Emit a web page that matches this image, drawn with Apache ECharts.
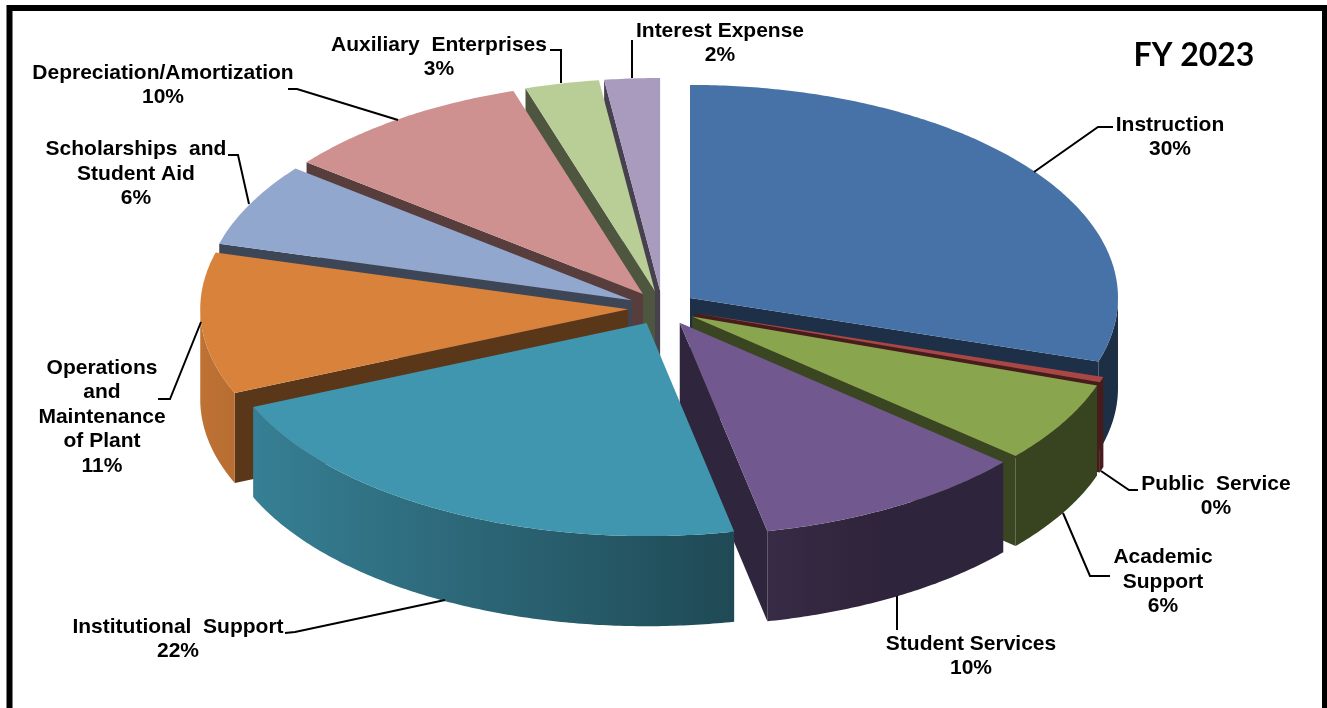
<!DOCTYPE html>
<html><head><meta charset="utf-8">
<style>html,body{margin:0;padding:0;background:#fff;overflow:hidden}#c{width:1327px;height:708px}</style>
<script src="https://cdn.jsdelivr.net/npm/echarts@6/dist/echarts.min.js"></script>
</head><body><div id="c"></div>
<script>
const categories = ['Instruction','Public Service','Academic Support','Student Services','Institutional Support','Operations and Maintenance of Plant','Scholarships and Student Aid','Depreciation/Amortization','Auxiliary Enterprises','Interest Expense'];
const shares = [29.83,0.42,6.11,10.36,21.84,10.72,6.33,9.5,2.8,2.09];
const percentLabels = ['30%','0%','6%','10%','22%','11%','6%','10%','3%','2%'];
const topColors = ['#4672A8','#AA4643','#89A54E','#71588F','#4096AE','#D9823B','#91A7CE','#CF9190','#B9CD96','#A99BBD'];

// styling
const EXPLODE = 0.08, DEPTH = 0.423, WALL = 0.42;
const total = shares.reduce((a,b)=>a+b,0);
const starts = []; { let c=0; shares.forEach(v=>{starts.push(c/total*2*Math.PI); c+=v;}); }
function rgb(h){return [1,3,5].map(i=>parseInt(h.substr(i,2),16));}
function shade(h,f){return 'rgb('+rgb(h).map(c=>Math.round(c*f)).join(',')+')';}
function rimShade(t){return Math.min(0.88,Math.max(0.41,0.555-0.32*Math.sin(t)));}

function renderSlice(params, api){
  const i = api.value(0);
  const a = starts[i], b = a + shares[i]/total*2*Math.PI, mid=(a+b)/2;
  const ox = EXPLODE*Math.sin(mid), oy = EXPLODE*Math.cos(mid);
  const P = (t,drop)=>api.coord([ox+Math.sin(t), oy+Math.cos(t)-(drop||0)]);
  const apex = api.coord([ox,oy]), apexB = api.coord([ox,oy-DEPTH]);
  const col = topColors[i];
  const n = Math.max(2,Math.ceil((b-a)/0.01));
  const rim=[]; for(let k=0;k<=n;k++) rim.push(a+(b-a)*k/n);
  const kids=[];
  const rank = order.indexOf(i)*10;
  if(Math.sin(b)>0) kids.push({type:'polygon',z2:rank,shape:{points:[apex,P(b),P(b,DEPTH),apexB]},style:{fill:shade(col,WALL)}});
  if(Math.sin(a)<0) kids.push({type:'polygon',z2:rank,shape:{points:[apex,P(a),P(a,DEPTH),apexB]},style:{fill:shade(col,WALL)}});
  const front = rim.filter(t=>Math.cos(t)<=0.0);
  if(front.length>1){
    const upper=front.map(t=>P(t)), lower=front.map(t=>P(t,DEPTH)).reverse();
    const xs=upper.map(p=>p[0]); const x0=Math.min.apply(null,xs), x1=Math.max.apply(null,xs);
    const stops=[]; const m=10;
    const sorted=front.slice().sort((p,q)=>P(p)[0]-P(q)[0]);
    for(let k=0;k<=m;k++){const t=sorted[Math.round(k/m*(sorted.length-1))];
      stops.push({offset:x1>x0?(P(t)[0]-x0)/(x1-x0):0,color:shade(col,rimShade(t))});}
    kids.push({type:'polygon',z2:rank+1,shape:{points:upper.concat(lower)},
      style:{fill:new echarts.graphic.LinearGradient(x0,0,x1,0,stops,true)}});
  }
  kids.push({type:'polygon',z2:rank+2,shape:{points:[apex].concat(rim.map(t=>P(t)))},style:{fill:col}});
  return {type:'group',children:kids};
}
const mids = shares.map((v,i)=>starts[i]+v/total*Math.PI);
const order = shares.map((v,i)=>i).sort((p,q)=>Math.cos(mids[q])-Math.cos(mids[p]));

const FONT='"Liberation Sans",Arial,sans-serif';
const labelLines = ['Instruction','Public  Service','Academic\nSupport','Student Services','Institutional  Support','Operations\nand\nMaintenance\nof Plant','Scholarships  and\nStudent Aid','Depreciation/Amortization','Auxiliary  Enterprises','Interest Expense'];
const labelAnchors = [[1170,137],[1216,496],[1163,582],[971,656],[178,639],[102,417],[136,174],[163,85],[439,57],[720,43]];
const leaders = [
 [[1113,127],[1098,127],[1034,172]],
 [[1138,490],[1129,490],[1101,471]],
 [[1110,576],[1090,576],[1063,513]],
 [[897,630],[897,596]],
 [[285,633],[295,632],[445,600]],
 [[158,399],[170,399],[201,322]],
 [[228,155],[238,155],[249,204]],
 [[288,89],[297,89],[398,120]],
 [[550,50],[561,50],[561,83]],
 [[632,78],[632,40]]
];
const graphics = [
 {type:'rect',silent:true,z:0,shape:{x:9.5,y:8,width:1315.5,height:720},style:{fill:'#fff',stroke:'#000',lineWidth:6}},
 {type:'text',z:5,x:1194,y:56,style:{text:'FY 2023',fontFamily:'Lato,"Open Sans",sans-serif',fontWeight:'bold',fontSize:32,fill:'#000',textAlign:'center',textVerticalAlign:'middle'}}
];
labelLines.forEach((t,i)=>graphics.push({type:'text',z:5,x:labelAnchors[i][0],y:labelAnchors[i][1],style:{text:t+'\n'+percentLabels[i],fontFamily:FONT,fontWeight:'bold',fontSize:21,lineHeight:24.4,fill:'#000',textAlign:'center',textVerticalAlign:'middle'}}));
leaders.forEach(p=>graphics.push({type:'polyline',z:5,shape:{points:p},style:{stroke:'#000',lineWidth:2,fill:null}}));

const chart = echarts.init(document.getElementById('c'),null,{width:1327,height:708});
chart.setOption({
  animation:false,
  backgroundColor:'#fff',
  grid:{left:234.4,top:95,width:856,height:426},
  xAxis:{type:'value',min:-1,max:1,show:false},
  yAxis:{type:'value',min:-1,max:1,show:false},
  graphic:graphics,
  series:[{type:'custom',clip:false,silent:true,z:3,renderItem:renderSlice,
    encode:{x:1,y:2},
    data:categories.map((c,i)=>({name:c,value:[i,0,0]}))}]
});
</script></body></html>
